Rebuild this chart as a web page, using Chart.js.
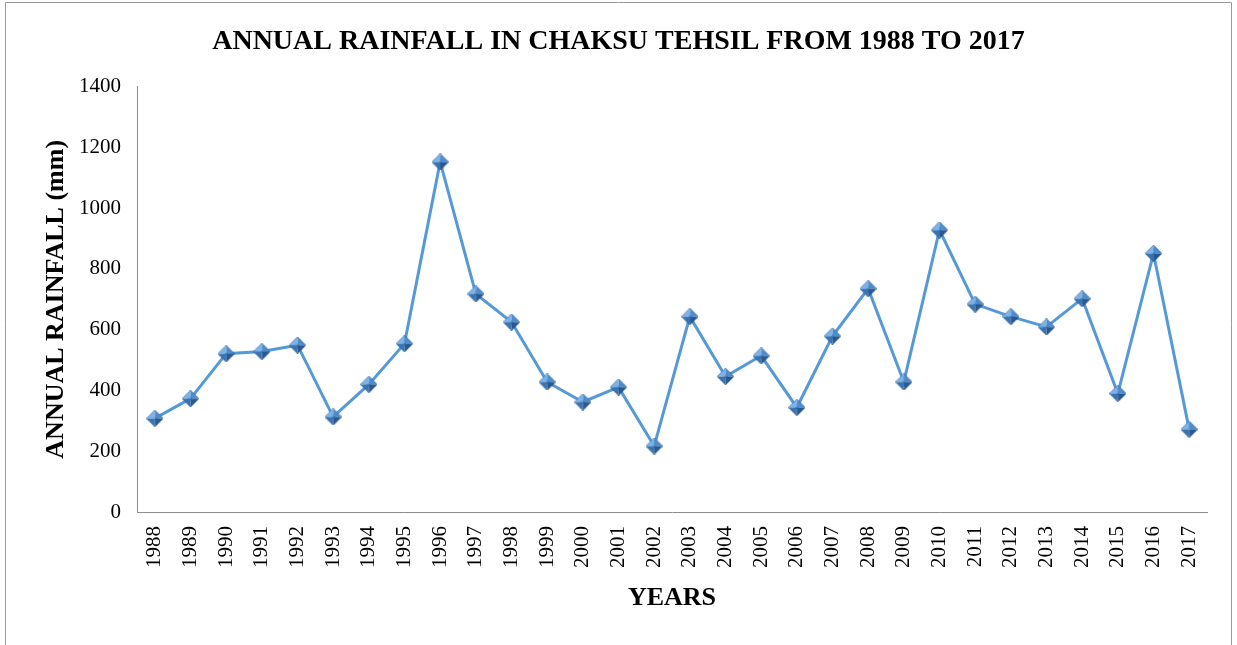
<!DOCTYPE html>
<html>
<head>
<meta charset="utf-8">
<script src="https://cdn.jsdelivr.net/npm/chart.js@4"></script>
<style>
  html, body { margin: 0; padding: 0; background: #fff; }
  #wrap { position: relative; width: 1237px; height: 645px; }
  canvas { display: block; }
</style>
</head>
<body>
<div id="wrap"><canvas id="c" width="1237" height="645"></canvas></div>
<script>
const years = ['1988','1989','1990','1991','1992','1993','1994','1995','1996','1997','1998','1999','2000','2001','2002','2003','2004','2005','2006','2007','2008','2009','2010','2011','2012','2013','2014','2015','2016','2017'];
const rainfall = [308, 373, 521, 528, 549, 313, 420, 554, 1152, 718, 625, 428, 362, 411, 217, 643, 446, 514, 344, 579, 735, 428, 928, 684, 643, 609, 702, 390, 851, 272];
const yTicks = [0, 200, 400, 600, 800, 1000, 1200, 1400];

const chartTitle = 'ANNUAL RAINFALL IN CHAKSU TEHSIL FROM 1988 TO 2017';
const yTitle = 'ANNUAL RAINFALL (mm)';
const xTitle = 'YEARS';

// bevelled diamond marker
function makeMarker(size) {
  const c = document.createElement('canvas');
  c.width = size; c.height = size;
  const g = c.getContext('2d');
  const h = size / 2;
  const facets = [
    [[h,0],[0,h],[h,h],'#7DB3E8'],
    [[h,0],[size,h],[h,h],'#4F8CCB'],
    [[0,h],[h,size],[h,h],'#3A73B2'],
    [[size,h],[h,size],[h,h],'#28588F']
  ];
  facets.forEach(f => {
    g.beginPath();
    g.moveTo(f[0][0], f[0][1]); g.lineTo(f[1][0], f[1][1]); g.lineTo(f[2][0], f[2][1]);
    g.closePath(); g.fillStyle = f[3]; g.fill();
  });
  g.beginPath();
  g.moveTo(h,0); g.lineTo(size,h); g.lineTo(h,size); g.lineTo(0,h); g.closePath();
  g.strokeStyle = 'rgba(40,80,130,0.6)'; g.lineWidth = 0.8; g.stroke();
  return c;
}
const marker = makeMarker(17);

const framePlugin = {
  id: 'frame',
  beforeDraw(chart) {
    const ctx = chart.ctx;
    ctx.save();
    ctx.strokeStyle = '#9a9a9a';
    ctx.lineWidth = 1;
    ctx.beginPath();
    ctx.moveTo(5.5, 700); ctx.lineTo(5.5, 2.5); ctx.lineTo(1231.5, 2.5); ctx.lineTo(1231.5, 700);
    ctx.stroke();
    ctx.restore();
  }
};

new Chart(document.getElementById('c'), {
  type: 'line',
  data: {
    labels: years,
    datasets: [{
      data: rainfall,
      borderColor: '#5599D8',
      borderWidth: 3,
      pointStyle: marker,
      pointRadius: 8,
      pointHoverRadius: 8,
      tension: 0,
      fill: false
    }]
  },
  options: {
    responsive: false,
    animation: false,
    devicePixelRatio: 1,
    layout: { padding: { left: 30, right: 30, top: 0, bottom: 0 } },
    plugins: {
      legend: { display: false },
      tooltip: { enabled: false },
      title: {
        display: true,
        text: chartTitle,
        color: '#000',
        font: { family: '"Liberation Serif", "Times New Roman", serif', size: 28, weight: 'bold' },
        padding: { top: 25, bottom: 28 }
      }
    },
    scales: {
      x: {
        type: 'category',
        offset: true,
        grid: { display: false, drawTicks: false },
        border: { display: true, color: '#8c8c8c', width: 1 },
        ticks: {
          color: '#000',
          font: { family: '"Liberation Serif", "Times New Roman", serif', size: 21 },
          minRotation: 90, maxRotation: 90,
          autoSkip: false,
          padding: 14
        },
        title: {
          display: true,
          text: xTitle,
          color: '#000',
          font: { family: '"Liberation Serif", "Times New Roman", serif', size: 26, weight: 'bold' },
          padding: { top: 0, bottom: 31 }
        },
        afterFit(scale) { scale.height = 133; }
      },
      y: {
        min: 0, max: 1400,
        grid: { display: false, drawTicks: false },
        border: { display: true, color: '#8c8c8c', width: 1 },
        afterBuildTicks(scale) { scale.ticks = yTicks.map(v => ({ value: v })); },
        ticks: {
          color: '#000',
          font: { family: '"Liberation Serif", "Times New Roman", serif', size: 21 },
          padding: 16,
          callback: (v) => String(v)
        },
        title: {
          display: true,
          text: yTitle,
          color: '#000',
          font: { family: '"Liberation Serif", "Times New Roman", serif', size: 26, weight: 'bold' },
          padding: { top: 11, bottom: 0 }
        },
        afterFit(scale) { scale.width = 107; }
      }
    }
  },
  plugins: [framePlugin]
});
</script>
</body>
</html>
